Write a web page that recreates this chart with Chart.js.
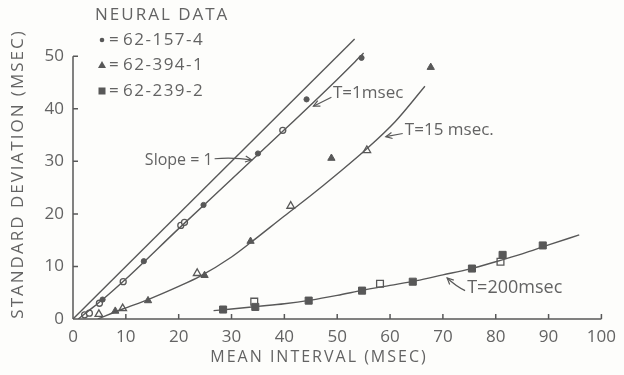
<!DOCTYPE html>
<html>
<head>
<meta charset="utf-8">
<script src="https://cdn.jsdelivr.net/npm/chart.js@4.4.1/dist/chart.umd.min.js"></script>
<style>
  html, body { margin: 0; padding: 0; background: #fdfdfb; }
  #wrap { width: 624px; height: 375px; }
</style>
</head>
<body>
<div id="wrap"><canvas id="chart" width="624" height="375"></canvas></div>
<script>
// neural data (mean interval vs standard deviation, msec)
const circleMean = [5.6, 13.4, 24.7, 35.0, 44.2, 54.6];
const circleSd = [3.7, 11.0, 21.7, 31.5, 41.8, 49.7];
const circleOpenMean = [2.2, 3.1, 5.0, 9.5, 20.4, 21.1, 39.7];
const circleOpenSd = [0.8, 1.1, 3.0, 7.1, 17.8, 18.4, 35.9];

const triMean = [8.0, 14.2, 24.9, 33.6, 48.9, 67.7];
const triSd = [1.5, 3.5, 8.3, 14.8, 30.6, 47.9];
const triOpenMean = [4.9, 9.4, 23.5, 41.2, 55.6];
const triOpenSd = [0.9, 2.0, 8.7, 21.5, 32.1];

const squareMean = [28.4, 34.5, 44.6, 54.7, 64.3, 75.5, 81.3, 88.9];
const squareSd = [1.8, 2.3, 3.5, 5.4, 7.1, 9.6, 12.2, 14.0];
const squareOpenMean = [34.3, 58.1, 80.9];
const squareOpenSd = [3.3, 6.7, 10.9];

// fitted curves
const slopeOneMean = [0, 53.3];
const slopeOneSd = [0, 53.3];
const tau1Mean = [1.0, 3.0, 5.5, 10, 20, 30, 40, 50, 55.0];
const tau1Sd = [0, 1.6, 3.6, 7.6, 17.2, 26.6, 36.0, 45.6, 50.6];
const tau15Mean = [4.7, 9.4, 14.2, 20, 24, 30, 33.7, 40, 45, 50, 55.6, 61, 66.6];
const tau15Sd = [0, 1.9, 3.7, 6.2, 8.1, 11.8, 14.6, 19.6, 23.5, 27.6, 32.4, 37.6, 44.3];
const tau200Mean = [26.6, 30, 35, 40, 45, 50, 55, 60, 65, 70, 75, 80, 85, 90, 95.8];
const tau200Sd = [1.6, 1.9, 2.4, 2.9, 3.6, 4.5, 5.5, 6.4, 7.3, 8.4, 9.5, 10.9, 12.4, 14.1, 16.0];

const xTicks = [0, 10, 20, 30, 40, 50, 60, 70, 80, 90, 100];
const yTicks = [0, 10, 20, 30, 40, 50];

const legendRows = ['62-157-4', '62-394-1', '62-239-2'];

const ink = '#585858';
const textInk = '#636363';
const paper = '#fdfdfb';
const fontFamily = "'Open Sans', 'DejaVu Sans', sans-serif";

function toPoints(xs, ys) {
    const pts = [];
    for (let i = 0; i < xs.length; i++) {
        pts.push({ x: xs[i], y: ys[i] });
    }
    return pts;
}

function curve(xs, ys) {
    return {
        data: toPoints(xs, ys),
        showLine: true,
        borderColor: ink,
        borderWidth: 1.4,
        pointRadius: 0,
        cubicInterpolationMode: 'monotone',
        fill: false
    };
}

function marks(xs, ys, style, radius, open) {
    return {
        data: toPoints(xs, ys),
        showLine: false,
        pointStyle: style,
        pointRadius: radius,
        borderColor: ink,
        borderWidth: open ? 1.3 : 1,
        backgroundColor: open ? paper : ink
    };
}

function arrow(ctx, x1, y1, x2, y2, bend) {
    const mx = (x1 + x2) / 2, my = (y1 + y2) / 2 + bend;
    ctx.beginPath();
    ctx.moveTo(x1, y1);
    ctx.quadraticCurveTo(mx, my, x2, y2);
    ctx.stroke();
    const ang = Math.atan2(y2 - my, x2 - mx);
    ctx.beginPath();
    ctx.moveTo(x2 - 7 * Math.cos(ang - 0.45), y2 - 7 * Math.sin(ang - 0.45));
    ctx.lineTo(x2, y2);
    ctx.lineTo(x2 - 7 * Math.cos(ang + 0.45), y2 - 7 * Math.sin(ang + 0.45));
    ctx.stroke();
}

const decor = {
    id: 'decor',
    beforeDraw(chart) {
        const ctx = chart.ctx;
        ctx.save();
        ctx.fillStyle = paper;
        ctx.fillRect(0, 0, chart.width, chart.height);
        ctx.restore();
    },
    afterDraw(chart) {
        const ctx = chart.ctx;
        const x = chart.scales.x;
        const y = chart.scales.y;
        const x0 = x.getPixelForValue(0);
        const y0 = y.getPixelForValue(0);
        ctx.save();
        ctx.strokeStyle = ink;
        ctx.lineWidth = 1.5;

        // axes with inward ticks
        ctx.beginPath();
        ctx.moveTo(x0, y0);
        ctx.lineTo(x.getPixelForValue(100), y0);
        ctx.moveTo(x0, y0);
        ctx.lineTo(x0, y.getPixelForValue(50));
        xTicks.forEach(v => {
            const px = x.getPixelForValue(v);
            ctx.moveTo(px, y0);
            ctx.lineTo(px, y0 - 5);
        });
        yTicks.forEach(v => {
            const py = y.getPixelForValue(v);
            ctx.moveTo(x0, py);
            ctx.lineTo(x0 + 5, py);
        });
        ctx.stroke();

        // axis titles
        ctx.fillStyle = textInk;
        ctx.textAlign = 'center';
        ctx.textBaseline = 'middle';
        ctx.letterSpacing = '2px';
        ctx.font = '16px ' + fontFamily;
        ctx.fillText('MEAN INTERVAL (MSEC)', 319, 357);
        ctx.save();
        ctx.translate(18, 174);
        ctx.rotate(-Math.PI / 2);
        ctx.font = '17px ' + fontFamily;
        ctx.fillText('STANDARD DEVIATION (MSEC)', 0, 0);
        ctx.restore();

        // legend block
        ctx.textAlign = 'left';
        ctx.font = '17px ' + fontFamily;
        ctx.fillText('NEURAL DATA', 95, 15);
        const rowY = [40, 65, 91];
        ctx.fillStyle = ink;
        ctx.beginPath();
        ctx.arc(102, rowY[0], 2.3, 0, Math.PI * 2);
        ctx.fill();
        ctx.beginPath();
        ctx.moveTo(102, rowY[1] - 4);
        ctx.lineTo(106, rowY[1] + 3);
        ctx.lineTo(98, rowY[1] + 3);
        ctx.closePath();
        ctx.fill();
        ctx.fillRect(98.5, rowY[2] - 3.5, 7, 7);
        ctx.fillStyle = textInk;
        ctx.letterSpacing = '1.5px';
        for (let i = 0; i < legendRows.length; i++) {
            ctx.fillText('=', 109, rowY[i]);
            ctx.fillText(legendRows[i], 123, rowY[i]);
        }

        // curve annotations (anchored in data units)
        ctx.letterSpacing = '0px';
        ctx.lineWidth = 1.2;
        ctx.font = '16px ' + fontFamily;
        ctx.fillText('Slope = 1', x.getPixelForValue(13.6), y.getPixelForValue(30.1));
        arrow(ctx, x.getPixelForValue(26.8), y.getPixelForValue(30.5),
            x.getPixelForValue(33.8), y.getPixelForValue(30.3), -2);

        ctx.font = '17px ' + fontFamily;
        ctx.fillText('T=1msec', x.getPixelForValue(49.2), y.getPixelForValue(43.0));
        arrow(ctx, x.getPixelForValue(48.9), y.getPixelForValue(42.2),
            x.getPixelForValue(45.5), y.getPixelForValue(40.5), 0);

        ctx.fillText('T=15 msec.', x.getPixelForValue(62.8), y.getPixelForValue(36.0));
        arrow(ctx, x.getPixelForValue(62.4), y.getPixelForValue(35.3),
            x.getPixelForValue(59.2), y.getPixelForValue(34.7), 0);

        ctx.font = '18px ' + fontFamily;
        ctx.fillText('T=200msec', x.getPixelForValue(74.6), y.getPixelForValue(5.9));
        arrow(ctx, x.getPixelForValue(74.2), y.getPixelForValue(5.4),
            x.getPixelForValue(70.8), y.getPixelForValue(7.8), 2);

        ctx.restore();
    }
};

const datasets = [
    curve(slopeOneMean, slopeOneSd),
    curve(tau1Mean, tau1Sd),
    curve(tau15Mean, tau15Sd),
    curve(tau200Mean, tau200Sd),
    marks(circleMean, circleSd, 'circle', 2.6, false),
    marks(circleOpenMean, circleOpenSd, 'circle', 3.0, true),
    marks(triMean, triSd, 'triangle', 4.2, false),
    marks(triOpenMean, triOpenSd, 'triangle', 4.4, true),
    marks(squareMean, squareSd, 'rect', 5, false),
    marks(squareOpenMean, squareOpenSd, 'rect', 4.8, true)
];

new Chart(document.getElementById('chart'), {
    type: 'scatter',
    data: { datasets: datasets },
    options: {
        responsive: false,
        animation: false,
        layout: { padding: { top: 30, right: 21, left: 0, bottom: 0 } },
        plugins: {
            legend: { display: false },
            tooltip: { enabled: false }
        },
        scales: {
            x: {
                type: 'linear',
                min: 0,
                max: 100,
                grid: { display: false, drawTicks: false },
                border: { display: false },
                ticks: {
                    stepSize: 10,
                    padding: 8,
                    color: textInk,
                    font: { family: fontFamily, size: 17 }
                },
                afterFit(scale) { scale.height = 56; }
            },
            y: {
                type: 'linear',
                min: 0,
                max: 55,
                grid: { display: false, drawTicks: false },
                border: { display: false },
                ticks: {
                    stepSize: 10,
                    includeBounds: false,
                    padding: 9,
                    color: textInk,
                    font: { family: fontFamily, size: 17 }
                },
                afterFit(scale) { scale.width = 73; }
            }
        }
    },
    plugins: [decor]
});
</script>
</body>
</html>
